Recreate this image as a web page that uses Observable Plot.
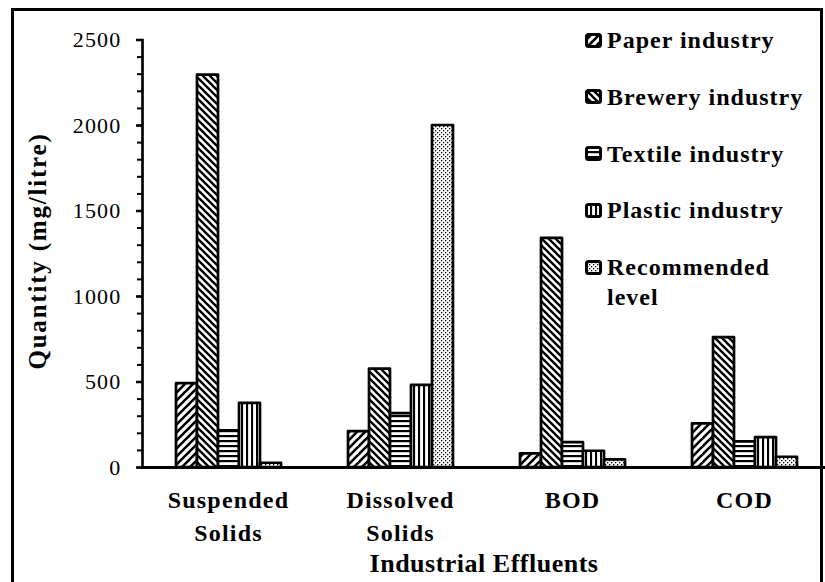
<!DOCTYPE html>
<html>
<head>
<meta charset="utf-8">
<script src="https://cdn.jsdelivr.net/npm/d3@7"></script>
<script src="https://cdn.jsdelivr.net/npm/@observablehq/plot@0.6"></script>
<style>
  html, body { margin: 0; padding: 0; background: #fff; }
  #wrap { position: relative; width: 825px; height: 582px; overflow: hidden; background: #fff;
          font-family: "Liberation Serif", "Times New Roman", serif; color: #000; }
  #wrap svg.chart { position: absolute; left: 0; top: 0; }
  #wrap svg.chart text { letter-spacing: 1.2px; }
  #frame { position: absolute; left: 11px; top: 8px; width: 812px; height: 620px;
           border: 3px solid #000; box-sizing: border-box; pointer-events: none; }
  #ytitle { position: absolute; left: 38px; top: 251px; transform: translate(-50%, -50%) rotate(-90deg);
            font-weight: bold; font-size: 25px; letter-spacing: 1.8px; white-space: nowrap; }
  #xtitle { position: absolute; left: 484px; top: 564px; transform: translate(-50%, -50%);
            font-weight: bold; font-size: 26px; letter-spacing: 0.5px; white-space: nowrap; }
  .leg { position: absolute; left: 585px; display: flex; align-items: flex-start; }
  .leg svg { margin-top: 7.5px; flex: none; }
  .leg span { margin-left: 5px; font-weight: bold; font-size: 24px; line-height: 30px;
              letter-spacing: 1px; white-space: pre-line; }
</style>
</head>
<body>
<div id="wrap">
  <div id="ytitle">Quantity (mg/litre)</div>
  <div id="xtitle">Industrial Effluents</div>
</div>
<script>
// ---- data ----
const categories = ["Suspended Solids", "Dissolved Solids", "BOD", "COD"];
const categoryLabels = ["Suspended\nSolids", "Dissolved\nSolids", "BOD", "COD"];
const seriesNames = ["Paper industry", "Brewery industry", "Textile industry", "Plastic industry", "Recommended level"];
const legendLabels = ["Paper industry", "Brewery industry", "Textile industry", "Plastic industry", "Recommended\nlevel"];
const paper       = [490, 210, 80, 255];
const brewery     = [2295, 575, 1340, 760];
const textile     = [215, 315, 145, 150];
const plastic     = [375, 480, 95, 175];
const recommended = [25, 2000, 45, 60];
const yTicks = [0, 500, 1000, 1500, 2000, 2500];
const yMinorTicks = [0, 100, 200, 300, 400, 500, 600, 700, 800, 900, 1000, 1100, 1200, 1300, 1400,
                     1500, 1600, 1700, 1800, 1900, 2000, 2100, 2200, 2300, 2400, 2500];
const patternIds = ["p-paper", "p-brewery", "p-textile", "p-plastic", "p-rec"];

const seriesValues = [paper, brewery, textile, plastic, recommended];
const rows = categories.flatMap((c, i) =>
  seriesNames.map((s, j) => ({cat: c, series: s, value: seriesValues[j][i]})));

const patternDefs = `
  <pattern id="p-paper" patternUnits="userSpaceOnUse" width="8" height="8">
    <rect width="8" height="8" fill="#fff"/>
    <path d="M-2,2 L2,-2 M0,8 L8,0 M6,10 L10,6" stroke="#000" stroke-width="2.6"/>
  </pattern>
  <pattern id="p-brewery" patternUnits="userSpaceOnUse" width="7" height="7">
    <rect width="7" height="7" fill="#fff"/>
    <path d="M-2,5 L2,9 M0,0 L7,7 M5,-2 L9,2" stroke="#000" stroke-width="2.3"/>
  </pattern>
  <pattern id="p-textile" patternUnits="userSpaceOnUse" width="6" height="5">
    <rect width="6" height="5" fill="#fff"/>
    <rect y="0" width="6" height="2.2" fill="#000"/>
  </pattern>
  <pattern id="p-plastic" patternUnits="userSpaceOnUse" width="5" height="6">
    <rect width="5" height="6" fill="#fff"/>
    <rect x="0" width="2.1" height="6" fill="#000"/>
  </pattern>
  <pattern id="p-rec" patternUnits="userSpaceOnUse" width="4" height="4">
    <rect width="4" height="4" fill="#fff"/>
    <rect x="0" y="0" width="1.3" height="1.3" fill="#000"/>
    <rect x="2" y="2" width="1.3" height="1.3" fill="#000"/>
  </pattern>`;

const chart = Plot.plot({
  className: "chart",
  width: 825,
  height: 582,
  marginLeft: 141,
  marginRight: -6,
  marginTop: 39.5,
  marginBottom: 115,
  style: {fontFamily: "Liberation Serif, Times New Roman, serif", fontSize: "22px", background: "transparent", color: "#000"},
  fx: {domain: categories, padding: 0, axis: null},
  x: {domain: seriesNames, paddingInner: 0, paddingOuter: 1.48, axis: null},
  y: {domain: [0, 2500], axis: null},
  marks: [
    ...seriesNames.map((s, j) =>
      Plot.barY(rows.filter(r => r.series === s), {
        fx: "cat", x: "series", y: "value",
        fill: `url(#${patternIds[j]})`,
        stroke: "#000", strokeWidth: 2.7, strokeLinejoin: "round"
      })),
    Plot.ruleY([0], {stroke: "#000", strokeWidth: 3}),
    Plot.frame({anchor: "left", facetAnchor: "left", stroke: "#000", strokeWidth: 2.7}),
    Plot.axisY({ticks: yMinorTicks, tickSize: 5, tickFormat: () => "", strokeWidth: 2, label: null}),
    Plot.axisY({ticks: yTicks, tickSize: 6, tickPadding: 15, strokeWidth: 2.5,
                fontSize: 22, label: null, tickFormat: d => String(d)}),
    Plot.text(categories, {
      fx: d => d, text: (d, i) => categoryLabels[i],
      frameAnchor: "bottom", lineAnchor: "top", dy: 17, lineHeight: 1.38,
      fontSize: 24, fontWeight: "bold"
    })
  ]
});

const defs = document.createElementNS("http://www.w3.org/2000/svg", "defs");
defs.innerHTML = patternDefs;
chart.insertBefore(defs, chart.firstChild);

const wrap = document.getElementById("wrap");
wrap.insertBefore(chart, wrap.firstChild);

// legend
legendLabels.forEach((lab, j) => {
  const row = document.createElement("div");
  row.className = "leg";
  row.style.top = (25 + j * 56.75) + "px";
  row.innerHTML = `<svg width="17" height="15"><rect x="1.5" y="1.5" width="14" height="12" rx="2"
      fill="url(#${patternIds[j]})" stroke="#000" stroke-width="3"/></svg><span></span>`;
  row.querySelector("span").textContent = lab;
  wrap.appendChild(row);
});

const frame = document.createElement("div");
frame.id = "frame";
wrap.appendChild(frame);
</script>
</body>
</html>
